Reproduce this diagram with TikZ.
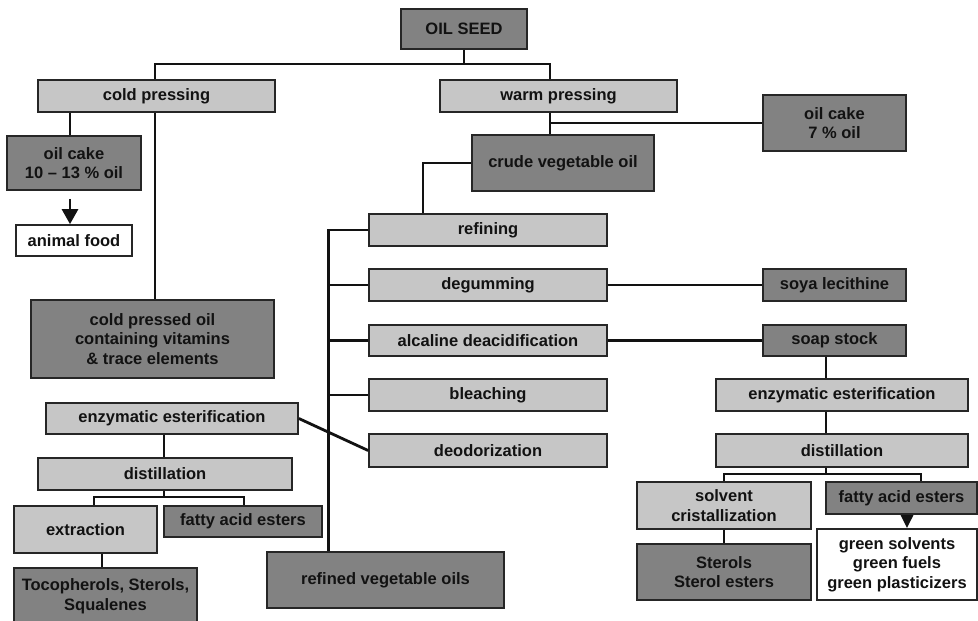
\documentclass[tikz,border=0pt]{standalone}
\usepackage{fontspec}
\setmainfont{Liberation Sans}
\usetikzlibrary{arrows.meta}
\definecolor{boxlight}{HTML}{C6C6C6}
\definecolor{boxdark}{HTML}{828282}
\definecolor{edge}{HTML}{262626}
\definecolor{ink}{HTML}{121212}
\begin{document}
\begin{tikzpicture}[x=1pt,y=-1pt,
  box/.style={draw=edge, line width=1.7pt, inner sep=0pt, align=center,
    font=\fontsize{16.5}{19.5}\selectfont\bfseries, text=ink},
  light/.style={box, fill=boxlight},
  dark/.style={box, fill=boxdark},
  plain/.style={box, fill=white},
  sz/.style 2 args={minimum width=#1pt, minimum height=#2pt},
  conn/.style={line width=2.8pt, draw=ink},
  brk/.style={line width=1.4pt, draw=ink},
  arr/.style={conn, -{Triangle[width=16pt,length=15pt]}},
  smallarr/.style={conn, -{Triangle[width=12pt,length=13pt]}}
]
\useasboundingbox (0,0) rectangle (978,621);
\fill[white] (0,0) rectangle (978,621);

% top level
\node[dark, sz={126}{40}]  (oilseed) at (464,29)    {OIL SEED};
\node[light, sz={237}{32}] (cold)    at (156.5,96)  {cold pressing};
\node[light, sz={237}{32}] (warm)    at (558.5,96)  {warm pressing};

% cold pressing branch
\node[dark, sz={134}{54}]  (cake1)   at (74,163)    {oil cake\\10 – 13 \% oil};
\node[plain, sz={116}{31}] (food)    at (74,240.5)  {animal food};
\node[dark, sz={243}{78}]  (coldoil) at (152.5,339) {cold pressed oil\\containing vitamins\\\& trace elements};

% warm pressing branch
\node[dark, sz={143}{56}]  (cake2)   at (834.5,123) {oil cake\\7 \% oil};
\node[dark, sz={182}{56}]  (crude)   at (563,163)   {crude vegetable oil};

% refining steps
\node[light, sz={238}{32}] (refining) at (488,230)   {refining};
\node[light, sz={238}{32}] (degum)    at (488,285)   {degumming};
\node[light, sz={238}{31}] (alcal)    at (488,340.5) {alcaline deacidification};
\node[light, sz={238}{32}] (bleach)   at (488,395)   {bleaching};
\node[light, sz={238}{33}] (deodor)   at (488,450.5) {deodorization};
\node[dark, sz={237}{56}]  (refined)  at (385.5,580) {refined vegetable oils};

% by-products on the right
\node[dark, sz={143}{32}]  (soya)    at (834.5,285)   {soya lecithine};
\node[dark, sz={143}{31}]  (soap)    at (834.5,340.5) {soap stock};
\node[light, sz={252}{32}] (enzR)    at (842,395)     {enzymatic esterification};
\node[light, sz={252}{33}] (distR)   at (842,450.5)   {distillation};
\node[light, sz={174}{47}] (solv)    at (724,505.5)   {solvent\\cristallization};
\node[dark, sz={151}{32}]  (faeR)    at (901.5,498)   {fatty acid esters};
\node[dark, sz={174}{56}]  (sterols) at (724,572)     {Sterols\\Sterol esters};
\node[plain, sz={160}{71}] (green)   at (897,564.5)   {green solvents\\green fuels\\green plasticizers};

% deodorizer distillate on the left
\node[light, sz={252}{31}] (enzL)  at (172,418.5)  {enzymatic esterification};
\node[light, sz={254}{32}] (distL) at (165,474)    {distillation};
\node[light, sz={143}{47}] (extr)  at (85.5,529.5) {extraction};
\node[dark, sz={158}{31}]  (faeL)  at (243,521.5)  {fatty acid esters};
\node[dark, sz={183}{56}]  (toco)  at (105.5,596)  {Tocopherols, Sterols,\\Squalenes};

% connectors: pressing
\coordinate (j1) at (464,64);
\draw[conn] (oilseed.south) -- (j1);
\draw[conn] ([xshift=-1.5pt]cold.north) |- (j1) -| ([xshift=-8.5pt]warm.north);
\draw[conn] ([xshift=-4pt]cake1.north) -- ([xshift=-4pt]cake1.north |- cold.south);
\draw[arr]  ([xshift=-4pt,yshift=-8pt]cake1.south) -- ([xshift=-4pt]food.north);
\draw[conn] ([xshift=-1.5pt]cold.south) -- ([xshift=-1.5pt]cold.south |- coldoil.north);

\coordinate (j2) at (550,123);
\draw[conn] (warm.south -| j2) -- (crude.north -| j2);
\draw[conn] (j2) -- (cake2.west);

% connectors: refining
\draw[conn] (crude.west) -| ([xshift=-65pt]refining.north);
\draw[conn] (refining.west) -- ++(-40,0) coordinate (tt) -- (tt |- refined.north);
\draw[conn] (degum.west)  -- (degum.west -| tt);
\draw[conn] (alcal.west)  -- (alcal.west -| tt);
\draw[conn] (bleach.west) -- (bleach.west -| tt);
\draw[conn] (enzL.east) -- (deodor.west);

% connectors: right side
\draw[conn] (degum.east) -- (soya.west);
\draw[conn] (alcal.east) -- (soap.west);
\draw[conn] ([xshift=-8.5pt]soap.south) -- ([xshift=-8.5pt]soap.south |- enzR.north);
\coordinate (jR) at (826,474);
\draw[conn] (jR |- enzR.south) -- (jR |- distR.north);
\draw[conn] (jR |- distR.south) -- (jR);
\draw[brk]  (solv.north) |- (jR) -| ([xshift=19.5pt]faeR.north);
\draw[conn] (solv.south) -- (sterols.north);
\draw[smallarr] ([xshift=5.5pt]faeR.south) -- ([xshift=10pt]green.north);

% connectors: left side
\coordinate (jL) at (164,497);
\draw[conn] (jL |- enzL.south) -- (jL |- distL.north);
\draw[conn] (jL |- distL.south) -- (jL);
\draw[brk]  ([xshift=8.5pt]extr.north) |- (jL) -| ([xshift=1pt]faeL.north);
\draw[conn] ([xshift=16.5pt]extr.south) -- ([xshift=16.5pt]extr.south |- toco.north);
\end{tikzpicture}
\end{document}
